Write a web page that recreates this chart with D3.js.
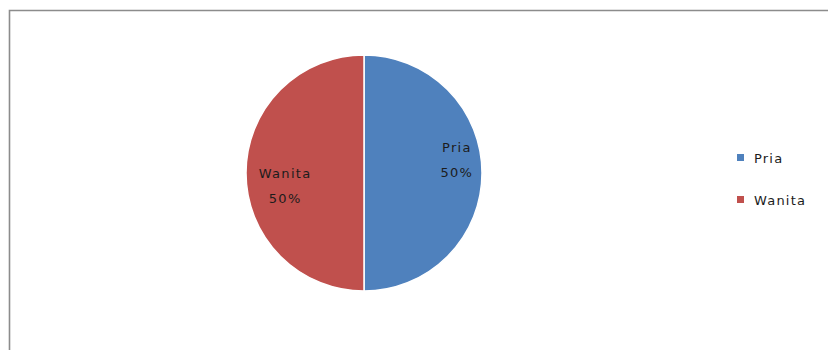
<!DOCTYPE html>
<html>
<head>
<meta charset="utf-8">
<script src="https://cdn.jsdelivr.net/npm/d3@7"></script>
<style>
  html, body { margin: 0; padding: 0; background: #fff; }
  svg { display: block; }
</style>
</head>
<body>
<svg id="chart" width="828" height="350"></svg>
<script>
// Gender split
const categories = ["Pria", "Wanita"];
const values = [50, 50];
const percentLabels = ["50%", "50%"];
const colors = ["#4F81BD", "#C0504D"];

const svg = d3.select("#chart");
const W = 828, H = 350;

// chart frame
svg.append("path")
  .attr("d", `M9.5,${H + 2} V10.5 H${W + 2}`)
  .attr("fill", "none")
  .attr("stroke", "#8c8c8c")
  .attr("stroke-width", 1.6);

const cx = 364, cy = 173, r = 118;

const color = d3.scaleOrdinal().domain(categories).range(colors);

const pie = d3.pie()
  .value(d => d.value)
  .sort(null)
  .startAngle(0)
  .endAngle(2 * Math.PI);

const data = categories.map((c, i) => ({ name: c, value: values[i], label: percentLabels[i] }));
const arcs = pie(data);

const arc = d3.arc().innerRadius(0).outerRadius(r);
const labelArc = d3.arc().innerRadius(r * 0.77).outerRadius(r * 0.77);

const g = svg.append("g").attr("transform", `translate(${cx},${cy})`);

g.selectAll("path.slice")
  .data(arcs)
  .join("path")
  .attr("class", "slice")
  .attr("d", arc)
  .attr("fill", d => color(d.data.name))
  .attr("stroke", "#fff")
  .attr("stroke-width", 1.5);

// data labels: category name above percentage
const labelOffsets = { "Pria": [2, -21], "Wanita": [12, 5] };
const lbl = g.selectAll("g.lbl")
  .data(arcs)
  .join("g")
  .attr("class", "lbl")
  .attr("transform", d => {
    const [x, y] = labelArc.centroid(d);
    const o = labelOffsets[d.data.name];
    return `translate(${x + o[0]},${y + o[1]})`;
  });

lbl.append("text")
  .attr("text-anchor", "middle")
  .attr("y", 0)
  .attr("font-family", "DejaVu Sans, sans-serif")
  .attr("font-size", 13)
  .attr("letter-spacing", 1.3)
  .attr("fill", "#1c1c1c")
  .text(d => d.data.name);

lbl.append("text")
  .attr("text-anchor", "middle")
  .attr("y", 25)
  .attr("font-family", "DejaVu Sans, sans-serif")
  .attr("font-size", 13)
  .attr("letter-spacing", 1.3)
  .attr("fill", "#1c1c1c")
  .text(d => d.data.label);

// legend
const legendY = d3.scalePoint().domain(categories).range([158, 200]);
const legend = svg.append("g").selectAll("g")
  .data(categories)
  .join("g")
  .attr("transform", d => `translate(737,${legendY(d)})`);

legend.append("rect")
  .attr("x", 0).attr("y", -4)
  .attr("width", 7).attr("height", 7)
  .attr("fill", d => color(d));

legend.append("text")
  .attr("x", 17).attr("y", 5)
  .attr("font-family", "DejaVu Sans, sans-serif")
  .attr("font-size", 13)
  .attr("letter-spacing", 1.2)
  .attr("fill", "#1c1c1c")
  .text(d => d);
</script>
</body>
</html>
